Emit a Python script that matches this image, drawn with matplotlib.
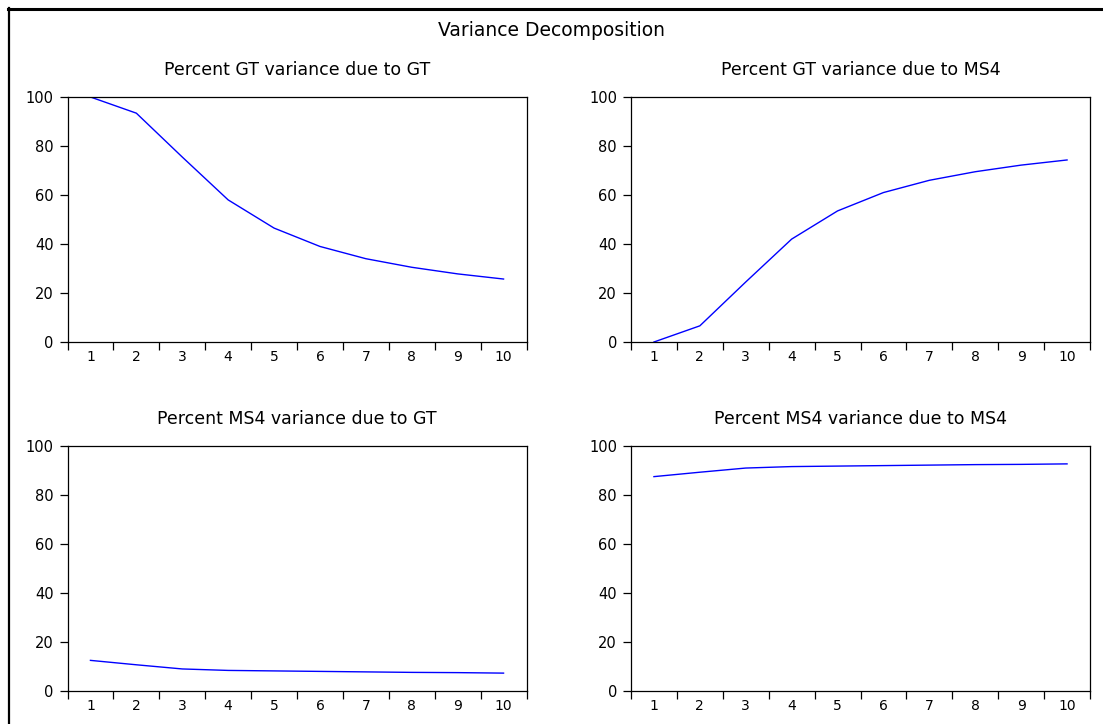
import matplotlib
matplotlib.use("Agg")
import matplotlib.pyplot as plt
from matplotlib.lines import Line2D

periods = [1, 2, 3, 4, 5, 6, 7, 8, 9, 10]
gt_due_gt = [100.0, 93.4, 75.5, 58.0, 46.5, 39.0, 34.0, 30.5, 27.8, 25.7]
gt_due_ms4 = [0.0, 6.6, 24.5, 42.0, 53.5, 61.0, 66.0, 69.5, 72.2, 74.3]
ms4_due_gt = [12.5, 10.7, 9.0, 8.4, 8.2, 8.0, 7.8, 7.6, 7.5, 7.3]
ms4_due_ms4 = [87.5, 89.3, 91.0, 91.6, 91.8, 92.0, 92.2, 92.4, 92.5, 92.7]
titles = ["Percent GT variance due to GT", "Percent GT variance due to MS4",
          "Percent MS4 variance due to GT", "Percent MS4 variance due to MS4"]
yticks = [0, 20, 40, 60, 80, 100]

plt.rcParams['font.family'] = ['DejaVu Sans']

W, H = 1103, 724
fig = plt.figure(figsize=(W / 100, H / 100), dpi=100)

# frame (top and left edges visible)
fig.add_artist(Line2D([8 / W, 1.0], [1 - 8.5 / H, 1 - 8.5 / H], color='black', lw=2.2,
                      transform=fig.transFigure))
fig.add_artist(Line2D([8.5 / W, 8.5 / W], [0, 1 - 8 / H], color='black', lw=1.6,
                      transform=fig.transFigure))

fig.text(551 / W, 1 - 31 / H, "Variance Decomposition", ha='center', va='center', fontsize=13.5)

boxes = [(67.5, 97, 526.5, 342), (631, 97, 1090, 342),
         (67.5, 446, 526.5, 691), (631, 446, 1090, 691)]
series = [gt_due_gt, gt_due_ms4, ms4_due_gt, ms4_due_ms4]

for (x0, y0, x1, y1), s, t in zip(boxes, series, titles):
    ax = fig.add_axes([x0 / W, 1 - y1 / H, (x1 - x0) / W, (y1 - y0) / H])
    ax.plot(periods, s, color='#0000ff', lw=1.0)
    ax.set_xlim(0.5, 10.5)
    ax.set_ylim(0, 100)
    ax.set_yticks(yticks)
    ax.set_yticklabels([str(v) for v in yticks])
    ax.set_xticks([p + 0.5 for p in [0] + periods])
    ax.set_xticklabels([])
    ax.set_xticks(periods, minor=True)
    ax.set_xticklabels([str(p) for p in periods], minor=True)
    ax.tick_params(axis='x', which='minor', length=0, labelsize=10, pad=6)
    ax.tick_params(axis='x', which='major', direction='out', length=6, width=0.9)
    ax.tick_params(axis='y', direction='out', length=6, width=0.9, labelsize=10.5, pad=4)
    for sp in ax.spines.values():
        sp.set_linewidth(0.9)
    ax.set_title(t, fontsize=12.5, pad=16)

fig.savefig("out.png", dpi=100)
